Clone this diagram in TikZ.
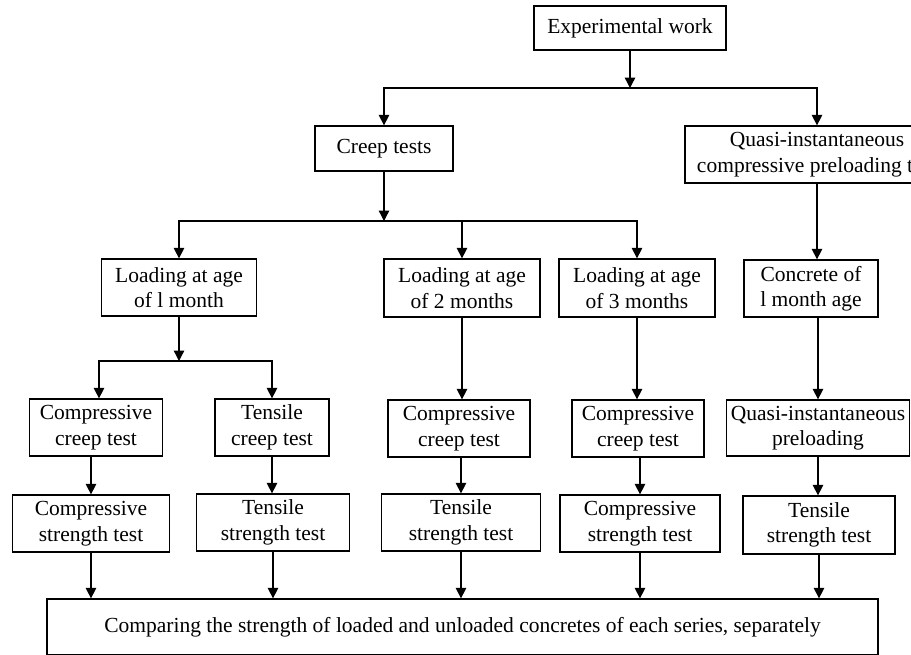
\documentclass[tikz,border=0pt]{standalone}
\usepackage{fontspec}
\setmainfont{Liberation Serif}
\usetikzlibrary{arrows.meta}
\begin{document}
\begin{tikzpicture}[x=1pt,y=-1pt,
  box/.style={draw, line width=1.3pt, inner sep=0pt, align=center,
    font=\fontsize{21.5}{25.5}\selectfont},
  arr/.style={draw, line width=1.4pt, -{Triangle[length=10.5pt,width=10.5pt]}}]
\useasboundingbox (0,0) rectangle (911,654);
\clip (0,0) rectangle (911,654);
% nodes
\node[box, minimum width=192, minimum height=44] (exp) at (630,28) {Experimental work};
\node[box, minimum width=138, minimum height=45] (creep) at (384,148.5) {Creep tests};
\node[box, minimum width=264, minimum height=57] (quasi) at (817,154.5) {Quasi-instantaneous\\compressive preloading test};
\node[box, minimum width=155, minimum height=57] (load1) at (179,287.5) {Loading at age\\of l month};
\node[box, minimum width=156, minimum height=58] (load2) at (462,288) {Loading at age\\of 2 months};
\node[box, minimum width=156, minimum height=58] (load3) at (637,288) {Loading at age\\of 3 months};
\node[box, minimum width=134, minimum height=57] (conc) at (811,288.5) {Concrete of\\l month age};
\node[box, minimum width=133, minimum height=57] (cc1) at (96,427.5) {Compressive\\creep test};
\node[box, minimum width=114, minimum height=57] (tc1) at (272,427.5) {Tensile\\creep test};
\node[box, minimum width=142, minimum height=57] (cc2) at (459,428.5) {Compressive\\creep test};
\node[box, minimum width=132, minimum height=57] (cc3) at (638,428.5) {Compressive\\creep test};
\node[box, minimum width=183, minimum height=56] (qp) at (818,428) {Quasi-instantaneous\\preloading};
\node[box, minimum width=157, minimum height=57] (cs1) at (91,523.5) {Compressive\\strength test};
\node[box, minimum width=153, minimum height=57] (ts1) at (273,522.5) {Tensile\\strength test};
\node[box, minimum width=159, minimum height=57] (ts2) at (461,522.5) {Tensile\\strength test};
\node[box, minimum width=160, minimum height=57] (cs3) at (640,523.5) {Compressive\\strength test};
\node[box, minimum width=152, minimum height=58] (ts3) at (819,525) {Tensile\\strength test};
\node[box, minimum width=831, minimum height=56] (fin) at (462.5,627) {Comparing the strength of loaded and unloaded concretes of each series, separately};
% junctions
\coordinate (j1) at (630,88);
\coordinate (j2) at (384,221);
\coordinate (j3) at (179,361);
% connectors
\draw[arr] (exp.south) -- (j1);
\draw[arr] (j1) -| (creep.north);
\draw[arr] (j1) -| (quasi.north);
\draw[arr] (creep.south) -- (j2);
\draw[arr] (j2) -| (load1.north);
\draw[arr] (j2) -| (load2.north);
\draw[arr] (j2) -| (load3.north);
\draw[arr] (quasi.south) -- (quasi.south |- conc.north);
\draw[arr] (load1.south) -- (j3);
\draw[arr] (j3) -| ([xshift=3pt]cc1.north);
\draw[arr] (j3) -| (tc1.north);
\draw[arr] (load2.south) -- (load2.south |- cc2.north);
\draw[arr] (load3.south) -- (load3.south |- cc3.north);
\draw[arr] (conc.south -| qp.north) -- (qp.north);
\draw[arr] (cs1.north |- cc1.south) -- (cs1.north);
\draw[arr] (tc1.south) -- (tc1.south |- ts1.north);
\draw[arr] (ts2.north |- cc2.south) -- (ts2.north);
\draw[arr] (cs3.north |- cc3.south) -- (cs3.north);
\draw[arr] (qp.south) -- (qp.south |- ts3.north);
\draw[arr] (cs1.south) -- (cs1.south |- fin.north);
\draw[arr] (ts1.south) -- (ts1.south |- fin.north);
\draw[arr] (ts2.south) -- (ts2.south |- fin.north);
\draw[arr] (cs3.south) -- (cs3.south |- fin.north);
\draw[arr] (ts3.south) -- (ts3.south |- fin.north);
\end{tikzpicture}
\end{document}
